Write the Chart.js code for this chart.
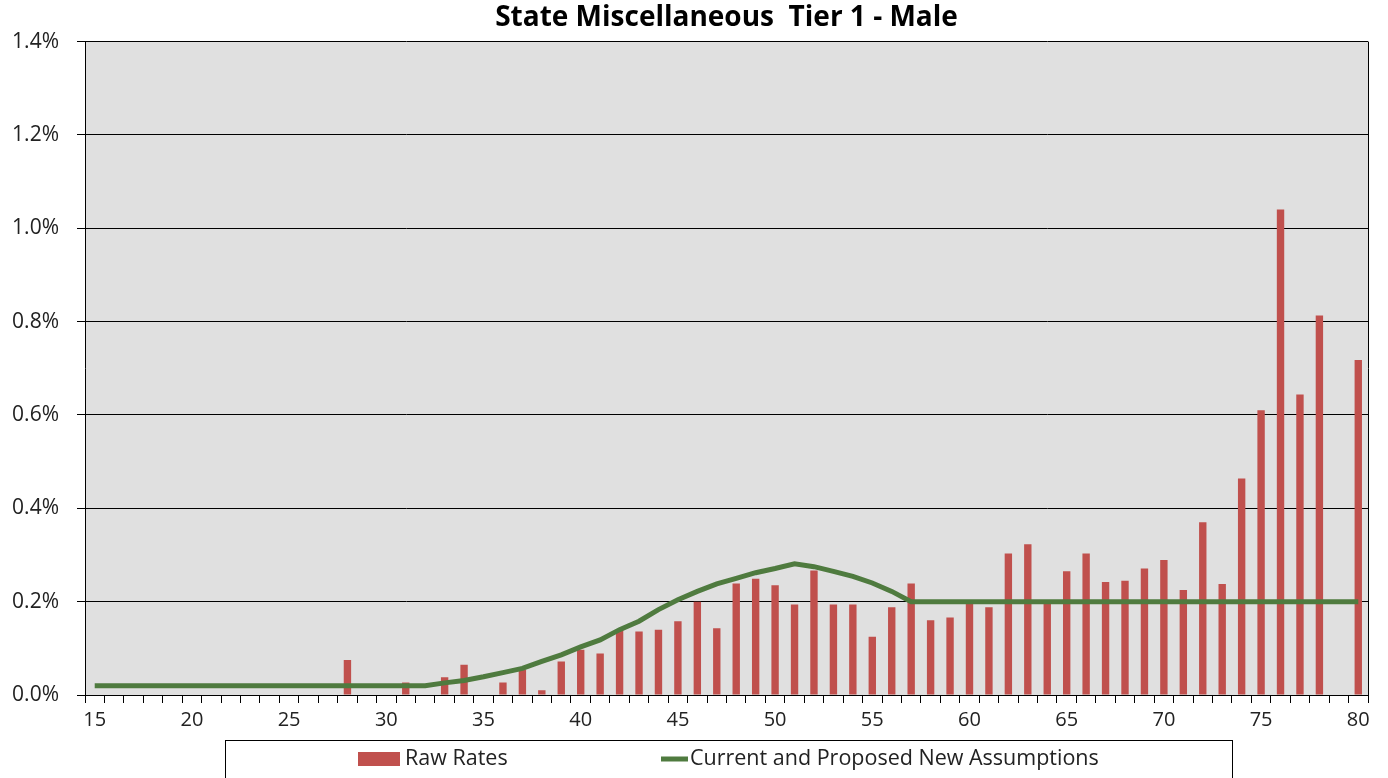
<!DOCTYPE html>
<html>
<head>
<meta charset="utf-8">
<script src="https://cdn.jsdelivr.net/npm/chart.js@4.4.1/dist/chart.umd.min.js"></script>
<style>
body{margin:0;background:#fff}
</style>
</head>
<body>
<canvas id="FirstChart" width="1388" height="778"></canvas>
<script>
// ages on the x axis
let ages=[15,16,17,18,19,20,21,22,23,24,25,26,27,28,29,30,31,32,33,34,35,36,37,38,39,40,
  41,42,43,44,45,46,47,48,49,50,51,52,53,54,55,56,57,58,59,60,61,62,63,64,65,66,67,68,69,70,
  71,72,73,74,75,76,77,78,79,80]

// raw rates in percent (null = no bar)
let rawRates=[null,null,null,null,null,null,null,null,null,null,null,null,null,
  0.075,null,null,0.027,null,0.038,0.065,null,0.027,0.054,0.010,0.072,0.097,
  0.089,0.140,0.136,0.140,0.158,0.200,0.143,0.239,0.249,0.235,0.194,0.267,0.194,0.194,
  0.125,0.188,0.239,0.160,0.166,0.197,0.188,0.303,0.323,0.197,0.265,0.303,0.242,0.245,0.271,0.289,
  0.225,0.370,0.238,0.464,0.610,1.040,0.644,0.813,null,0.718]

// current and proposed assumption in percent
let assumption=[0.02,0.02,0.02,0.02,0.02,0.02,0.02,0.02,0.02,0.02,0.02,0.02,0.02,0.02,0.02,0.02,0.02,0.02,
  0.026,0.031,0.039,0.048,0.057,0.072,0.086,0.103,0.118,0.140,0.158,0.183,0.204,0.222,0.238,0.250,
  0.262,0.271,0.281,0.275,0.265,0.254,0.240,0.222,0.200,
  0.2,0.2,0.2,0.2,0.2,0.2,0.2,0.2,0.2,0.2,0.2,0.2,0.2,0.2,0.2,0.2,0.2,0.2,0.2,0.2,0.2,0.2,0.2]

let seriesNames=['Raw Rates','Current and Proposed New Assumptions']
let yTicks=[0,0.2,0.4,0.6,0.8,1.0,1.2,1.4]

let barColor='#C0504D'
let lineColor='#4F7B3F'
let fontFam='"Open Sans", Lato, sans-serif'

let plotBg={
  id:'plotBg',
  beforeDraw(chart){
    let a=chart.chartArea, ctx=chart.ctx
    ctx.save()
    ctx.fillStyle='#E0E0E0'
    ctx.fillRect(a.left,a.top,a.right-a.left,a.bottom-a.top)
    ctx.restore()
  },
  afterDraw(chart){
    let a=chart.chartArea, ctx=chart.ctx
    ctx.save()
    ctx.strokeStyle='#000'
    ctx.lineWidth=1
    ctx.beginPath()
    ctx.moveTo(a.right+0.5,a.top)
    ctx.lineTo(a.right+0.5,a.bottom)
    ctx.stroke()
    // legend box
    let left=a.left+140, right=a.right-136, top=a.bottom+45
    ctx.strokeRect(left+0.5,top+0.5,right-left,60)
    let cy=top+19
    ctx.font='21.5px '+fontFam
    ctx.textBaseline='middle'
    ctx.fillStyle=barColor
    ctx.fillRect(left+133,cy-7,42,14)
    ctx.fillStyle='#222'
    ctx.fillText(seriesNames[0],left+180,cy)
    ctx.strokeStyle=lineColor
    ctx.lineWidth=5
    ctx.beginPath()
    ctx.moveTo(left+436,cy)
    ctx.lineTo(left+463,cy)
    ctx.stroke()
    ctx.fillText(seriesNames[1],left+465,cy)
    ctx.restore()
  }
}

let ctx1=document.getElementById('FirstChart').getContext('2d')
let myChart=new Chart(ctx1,{
  data:{
    labels:ages,
    datasets:[{
      type:'line',
      label:seriesNames[1],
      data:assumption,
      borderColor:lineColor,
      borderWidth:5,
      pointRadius:0,
      tension:0,
      order:0
    },{
      type:'bar',
      label:seriesNames[0],
      data:rawRates,
      backgroundColor:barColor,
      barPercentage:0.38,
      categoryPercentage:1,
      order:1
    }]
  },
  options:{
    responsive:false,
    animation:false,
    layout:{padding:{left:0,right:20,top:0,bottom:43}},
    plugins:{
      legend:{display:false},
      tooltip:{enabled:false},
      title:{
        display:true,
        fullSize:false,
        text:'State Miscellaneous  Tier 1 - Male',
        color:'#000',
        font:{family:fontFam,size:28,weight:'bold'},
        padding:{top:1,bottom:7}
      }
    },
    scales:{
      x:{
        offset:true,
        grid:{offset:true,drawOnChartArea:false,tickLength:8,color:'#000'},
        border:{color:'#000'},
        ticks:{
          autoSkip:false,maxRotation:0,padding:5,color:'#222',
          font:{family:fontFam,size:20},
          callback:function(v,i){return ages[i]%5===0?String(ages[i]):''}
        },
        afterFit(s){s.height=40}
      },
      y:{
        min:0,max:1.4,
        afterBuildTicks(s){s.ticks=yTicks.map(v=>({value:v}))},
        grid:{color:'#000',tickLength:8},
        border:{color:'#000'},
        ticks:{
          padding:18,color:'#222',
          font:{family:fontFam,size:21},
          callback:v=>v.toFixed(1)+'%'
        },
        afterFit(s){s.width=85}
      }
    }
  },
  plugins:[plotBg]
})
</script>
</body>
</html>
